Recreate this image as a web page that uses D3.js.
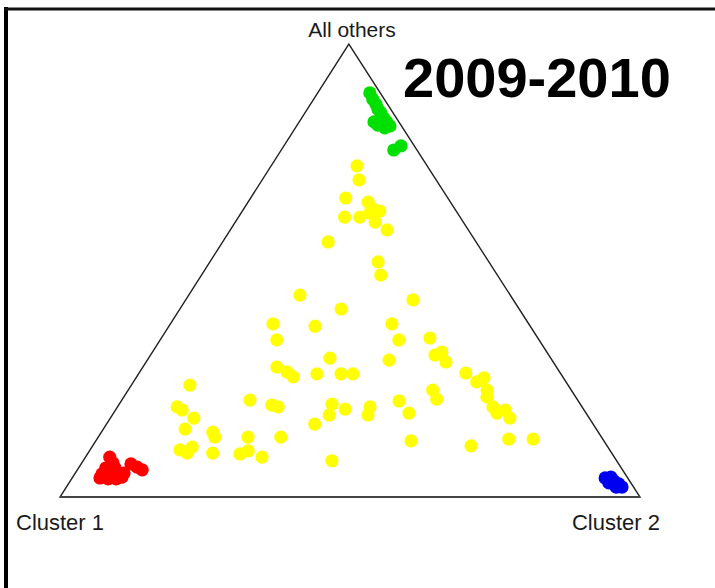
<!DOCTYPE html>
<html>
<head>
<meta charset="utf-8">
<script src="https://cdn.jsdelivr.net/npm/d3@7"></script>
<style>
  html, body { margin: 0; padding: 0; background: #fff; }
  svg { display: block; }
</style>
</head>
<body>
<svg id="chart" width="715" height="588"></svg>
<script>
// Vertex labels (ternary components: [Cluster 1, Cluster 2, All others], in %)
const vertexLabels = ["Cluster 1", "Cluster 2", "All others"];
const title = "2009-2010";

// Cluster 1 members (red)
const cluster1Pts = [
  [87.0,4.2,8.8],[87.1,5.4,7.5],[88.9,4.7,6.4],[87.3,6.3,6.4],[90.2,4.7,5.1],
  [88.8,6.1,5.1],[87.3,7.4,5.3],[87.1,8.5,4.4],[91.0,4.8,4.2],[89.7,6.3,4.0],
  [88.4,7.7,4.0],[86.3,8.4,5.3],[84.1,8.6,7.3],[83.4,10.0,6.6],[82.9,11.2,6.0]
];

// Cluster 2 members (blue)
const cluster2Pts = [
  [3.9,91.9,4.2],[2.8,92.8,4.4],[2.7,93.8,3.5],[2.2,94.9,2.9],[2.0,95.8,2.2],
  [3.8,93.1,3.1],[3.0,94.8,2.2]
];

// "All others" members (green)
const othersPts = [
  [1.8,9.0,89.2],[2.0,10.2,87.9],[2.0,11.3,86.8],[2.2,12.2,85.6],[2.1,13.1,84.8],
  [2.2,14.2,83.7],[2.1,15.1,82.8],[2.0,16.1,81.9],[4.0,13.9,82.1],[3.1,15.4,81.5],
  [4.3,12.9,82.8],[4.0,19.4,76.6],[2.3,20.2,77.5]
];

// Unassigned / mixed (yellow)
const mixedPts = [
  [12.1,14.8,73.1],[13.3,16.7,70.0],[17.6,16.4,66.0],[14.2,20.7,65.1],[14.2,22.0,63.8],
  [13.2,23.7,63.1],[19.9,18.3,61.8],[17.3,20.9,61.8],[15.1,22.2,62.7],[15.2,24.1,60.7],
  [14.0,27.0,58.9],[25.5,18.2,56.3],[19.1,29.0,51.9],[20.1,30.9,49.0],[36.3,19.2,44.6],
  [30.7,27.8,41.5],[17.3,39.2,43.5],[44.1,17.7,38.2],[37.1,25.2,37.7],[23.6,38.2,38.2],
  [45.2,20.1,34.7],[24.2,41.2,34.7],[18.6,46.3,35.1],[38.1,31.3,30.7],[28.1,41.7,30.2],
  [19.6,49.0,31.3],[18.1,49.9,32.0],[18.5,51.7,29.8],[48.2,23.1,28.7],[47.0,25.4,27.6],
  [46.5,27.0,26.5],[42.1,30.8,27.2],[37.9,34.9,27.2],[35.9,37.0,27.2],[16.3,56.4,27.4],
  [15.4,59.2,25.4],[13.7,60.0,26.3],[14.5,61.8,23.6],[15.3,62.6,22.1],[23.9,52.5,23.6],
  [24.2,54.2,21.6],[30.9,47.9,21.2],[30.5,50.9,18.5],[15.4,64.8,19.9],[15.4,66.1,18.5],
  [13.6,67.2,19.2],[13.7,68.9,17.4],[65.2,10.1,24.7],[56.5,22.1,21.4],[53.3,26.4,20.3],
  [52.4,27.7,19.9],[42.8,36.7,20.5],[44.5,37.4,18.1],[41.1,39.5,19.4],[36.6,43.6,19.9],
  [37.8,44.1,18.1],[69.9,10.3,19.9],[69.3,11.5,19.2],[68.2,14.4,17.4],[70.9,14.1,15.0],
  [66.4,19.2,14.3],[66.6,20.1,13.2],[60.9,25.8,13.2],[55.3,31.5,13.2],[48.0,35.9,16.1],
  [74.1,15.5,10.4],[71.7,17.3,11.0],[73.2,17.1,9.7],[68.8,21.5,9.7],[64.2,26.3,9.5],
  [62.5,27.4,10.2],[60.7,30.4,8.8],[33.3,54.4,12.4],[49.1,42.9,8.0],[23.5,65.3,11.3],
  [16.2,71.0,12.8],[12.0,75.2,12.8]
];

const svg = d3.select("#chart");

// Scales: cartesian position inside triangle
const apexFrac = 0.498;
const x = d3.scaleLinear().domain([0, 1]).range([60, 640]);
const y = d3.scaleLinear().domain([0, 1]).range([497, 44]);
function proj(d) {
  const s = d[0] + d[1] + d[2];
  const c2 = d[1] / s, oth = d[2] / s;
  return [x(c2 + oth * apexFrac), y(oth)];
}

// Frame (left and top border)
svg.append("line").attr("x1", 6).attr("x2", 6).attr("y1", 7).attr("y2", 588)
  .attr("stroke", "#000").attr("stroke-width", 4);
svg.append("line").attr("x1", 4).attr("x2", 715).attr("y1", 9).attr("y2", 9)
  .attr("stroke", "#111").attr("stroke-width", 3);

// Triangle
const verts = [[100,0,0],[0,100,0],[0,0,100]].map(proj);
svg.append("path")
  .attr("d", d3.line()(verts) + "Z")
  .attr("fill", "none").attr("stroke", "#222").attr("stroke-width", 1.4);
svg.append("line")
  .attr("x1", verts[0][0]).attr("x2", verts[1][0])
  .attr("y1", verts[0][1]).attr("y2", verts[1][1])
  .attr("stroke", "#444").attr("stroke-width", 2.2);

// Points
const groups = [
  { data: mixedPts, color: "#ffff00" },
  { data: cluster1Pts, color: "#ff0000" },
  { data: cluster2Pts, color: "#0000f0" },
  { data: othersPts, color: "#00e000" }
];
groups.forEach(g => {
  svg.append("g").selectAll("circle").data(g.data).join("circle")
    .attr("cx", d => proj(d)[0]).attr("cy", d => proj(d)[1])
    .attr("r", 6.6).attr("fill", g.color);
});

// Labels
const font = "Liberation Sans, Arial, sans-serif";
svg.append("text").attr("x", 352).attr("y", 37).attr("text-anchor", "middle")
  .attr("font-family", font).attr("font-size", 21).attr("fill", "#1a1a1a")
  .text(vertexLabels[2]);
svg.append("text").attr("x", 16).attr("y", 530)
  .attr("font-family", font).attr("font-size", 22).attr("fill", "#1a1a1a")
  .text(vertexLabels[0]);
svg.append("text").attr("x", 660).attr("y", 530).attr("text-anchor", "end")
  .attr("font-family", font).attr("font-size", 22).attr("fill", "#1a1a1a")
  .text(vertexLabels[1]);
svg.append("text").attr("x", 403).attr("y", 97)
  .attr("font-family", font).attr("font-size", 56).attr("font-weight", "bold")
  .attr("fill", "#000").text(title);
</script>
</body>
</html>
